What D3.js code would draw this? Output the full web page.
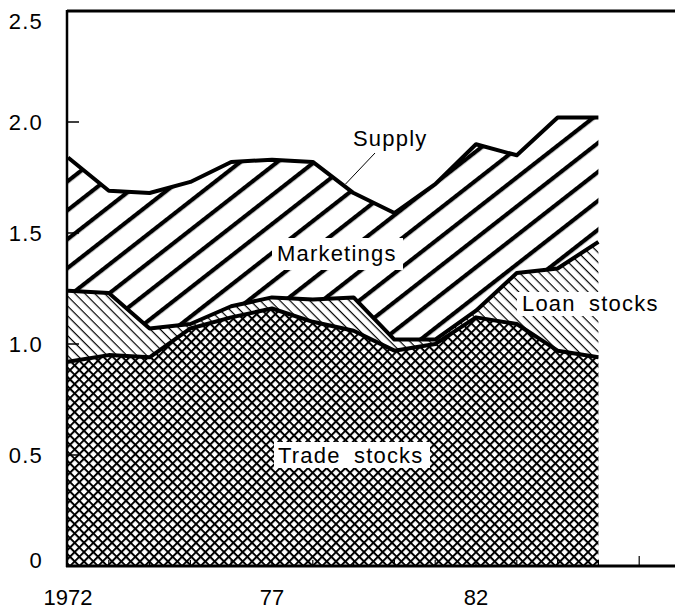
<!DOCTYPE html>
<html>
<head>
<meta charset="utf-8">
<script src="https://cdn.jsdelivr.net/npm/d3@7/dist/d3.min.js"></script>
<style>
  body { margin: 0; background: #fff; }
  text { font-family: "Liberation Sans", Arial, Helvetica, sans-serif; fill: #000; }
</style>
</head>
<body>
<script>
// canvas size
var width = 675
var height = 609

// data
const years = [1972, 1973, 1974, 1975, 1976, 1977, 1978, 1979, 1980, 1981, 1982, 1983, 1984, 1985]
const tradeStocks = [0.92, 0.95, 0.94, 1.07, 1.12, 1.16, 1.10, 1.06, 0.97, 1.00, 1.12, 1.09, 0.97, 0.94]
const loanStocks  = [0.32, 0.28, 0.13, 0.02, 0.05, 0.05, 0.10, 0.15, 0.05, 0.02, 0.03, 0.23, 0.37, 0.52]
const marketings  = [0.60, 0.46, 0.61, 0.64, 0.65, 0.62, 0.62, 0.47, 0.57, 0.70, 0.75, 0.53, 0.68, 0.56]

const yTicks = [0, 0.5, 1.0, 1.5, 2.0, 2.5]
const yTickLabels = ["0", "0.5", "1.0", "1.5", "2.0", "2.5"]
const xTicks = [1972, 1977, 1982]
const xTickLabels = ["1972", "77", "82"]
const xMinorTicks = d3.range(1973, 1987)

const keys = ["trade", "loan", "mkt"]
var table = years.map((yr, i) => ({year: yr, trade: tradeStocks[i], loan: loanStocks[i], mkt: marketings[i]}))
var series = d3.stack().keys(keys)(table)

// scales
var x = d3.scaleLinear().domain([1972, 1987]).range([68, 680])
var y = d3.scaleLinear().domain([0, 2.5]).range([566, 11])

const svg = d3.select("body").append("svg")
  .attr("width", width)
  .attr("height", height)

var defs = svg.append("defs")

// cross hatch for trade stocks
var cross = defs.append("pattern")
  .attr("id", "cross")
  .attr("patternUnits", "userSpaceOnUse")
  .attr("width", 6.6).attr("height", 6.6)
  .attr("patternTransform", "rotate(45)")
cross.append("rect").attr("width", 6.6).attr("height", 6.6).attr("fill", "#fff")
cross.append("rect").attr("width", 6.6).attr("height", 2).attr("fill", "#000")
cross.append("rect").attr("width", 2).attr("height", 6.6).attr("fill", "#000")

// thin back slashes for loan stocks
var thin = defs.append("pattern")
  .attr("id", "thin")
  .attr("patternUnits", "userSpaceOnUse")
  .attr("width", 10).attr("height", 7)
  .attr("patternTransform", "rotate(45)")
thin.append("rect").attr("width", 10).attr("height", 7).attr("fill", "#fff")
thin.append("rect").attr("width", 10).attr("height", 1.2).attr("fill", "#000")

// thick slashes for marketings
var thick = defs.append("pattern")
  .attr("id", "thick")
  .attr("patternUnits", "userSpaceOnUse")
  .attr("width", 10).attr("height", 22.8)
  .attr("patternTransform", "rotate(-38)")
thick.append("rect").attr("width", 10).attr("height", 22.8).attr("fill", "#fff")
thick.append("rect").attr("width", 10).attr("height", 4.2).attr("fill", "#000")

const fills = {trade: "url(#cross)", loan: "url(#thin)", mkt: "url(#thick)"}

var area = d3.area()
  .x(d => x(d.data.year))
  .y0(d => y(d[0]))
  .y1(d => y(d[1]))

svg.selectAll(".layer")
  .data(series)
  .enter()
  .append("path")
  .attr("class", "layer")
  .attr("d", area)
  .attr("fill", d => fills[d.key])

// white boxes behind labels that sit inside the hatching
function knockout(x0, y0, w, h) {
  svg.append("rect").attr("x", x0).attr("y", y0).attr("width", w).attr("height", h).attr("fill", "#fff")
}
knockout(272, 238, 131, 32)
knockout(274, 442, 156, 26)
knockout(517, 292, 90, 24)

// boundary lines
var topLine = d3.line()
  .x(d => x(d.data.year))
  .y(d => y(d[1]))

svg.selectAll(".edge")
  .data(series)
  .enter()
  .append("path")
  .attr("class", "edge")
  .attr("d", topLine)
  .attr("fill", "none")
  .attr("stroke", "#000")
  .attr("stroke-width", 4)
  .attr("stroke-linejoin", "round")

// frame: top border, left and bottom axis
svg.append("line").attr("x1", 67).attr("x2", width).attr("y1", 11).attr("y2", 11)
  .attr("stroke", "#000").attr("stroke-width", 3)
svg.append("line").attr("x1", 67).attr("x2", 67).attr("y1", 10).attr("y2", 567)
  .attr("stroke", "#000").attr("stroke-width", 2.5)
svg.append("line").attr("x1", 66).attr("x2", width).attr("y1", 566).attr("y2", 566)
  .attr("stroke", "#000").attr("stroke-width", 3)

// inward ticks
svg.selectAll(".ytick")
  .data(yTicks.filter(v => v > 0 && v < 2.5))
  .enter()
  .append("line")
  .attr("x1", 67).attr("x2", 79)
  .attr("y1", d => y(d)).attr("y2", d => y(d))
  .attr("stroke", "#000").attr("stroke-width", 1.5)

svg.selectAll(".xtick")
  .data(xMinorTicks)
  .enter()
  .append("line")
  .attr("x1", d => x(d)).attr("x2", d => x(d))
  .attr("y1", 566).attr("y2", d => d == 1986 ? 556 : 560)
  .attr("stroke", "#000").attr("stroke-width", 1.2)

// tick labels
svg.selectAll(".ylab")
  .data(yTicks)
  .enter()
  .append("text")
  .attr("x", 43)
  .attr("y", d => Math.min(Math.max(y(d), 21), 560))
  .attr("dy", "0.36em")
  .attr("text-anchor", "end")
  .attr("font-size", "22px")
  .attr("letter-spacing", "1.2px")
  .text((d, i) => yTickLabels[i])

svg.selectAll(".xlab")
  .data(xTicks)
  .enter()
  .append("text")
  .attr("x", d => x(d))
  .attr("y", 605)
  .attr("text-anchor", "middle")
  .attr("font-size", "22px")
  .text((d, i) => xTickLabels[i])

// series labels
function label(txt, lx, ly) {
  svg.append("text")
    .attr("x", lx).attr("y", ly)
    .attr("font-size", "22px")
    .attr("letter-spacing", "1.2px")
    .attr("word-spacing", "6px")
    .text(txt)
}
label("Supply", 353, 146)
label("Marketings", 277, 261)
label("Loan stocks", 522, 311)
label("Trade stocks", 278, 463)

// leader from "Supply" to its line
svg.append("line")
  .attr("x1", 375).attr("y1", 153)
  .attr("x2", x(1978.8)).attr("y2", y(1.72))
  .attr("stroke", "#000").attr("stroke-width", 1)
</script>
</body>
</html>
